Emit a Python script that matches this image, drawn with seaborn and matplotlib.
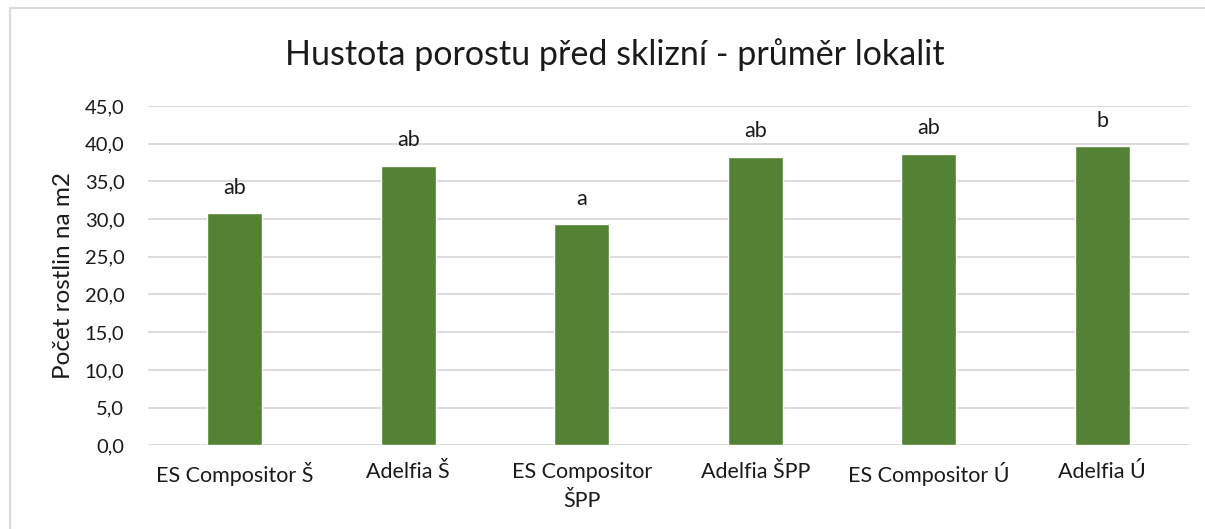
import numpy as np
import pandas as pd
import matplotlib
matplotlib.use("Agg")
import matplotlib.pyplot as plt
import seaborn as sns
from matplotlib.lines import Line2D

categories = ["ES Compositor Š", "Adelfia Š", "ES Compositor\nŠPP", "Adelfia ŠPP",
              "ES Compositor Ú", "Adelfia Ú"]
values = [30.8, 37.1, 29.4, 38.3, 38.7, 39.7]
letters = ["ab", "ab", "a", "ab", "ab", "b"]
yticks = np.arange(0, 46, 5)

sns.set_style("white")
plt.rcParams['font.family'] = ['Lato', 'DejaVu Sans']

df = pd.DataFrame({"odruda": categories, "hustota": values})

fig = plt.figure(figsize=(12.05, 5.29), dpi=100)
ax = fig.add_axes([148 / 1205, 1 - 445.3 / 529, (1189 - 148) / 1205, (445.3 - 106) / 529])

sns.barplot(data=df, x="odruda", y="hustota", color="#548235", saturation=1,
            width=0.317, ax=ax, zorder=3)

ax.set_ylim(0, 45)
ax.set_yticks(yticks)
ax.set_yticklabels([f"{v:.1f}".replace(".", ",") for v in yticks], fontsize=14.5, color="#1a1a1a")
ax.yaxis.grid(True, color="#d9d9d9", linewidth=1.3, zorder=0)
ax.set_axisbelow(True)
for s in ax.spines.values():
    s.set_visible(False)
ax.tick_params(axis="both", length=0)
ax.tick_params(axis="y", pad=17)
ax.tick_params(axis="x", pad=12)
for lbl in ax.get_xticklabels():
    lbl.set_fontsize(15.5)
    lbl.set_color("#1a1a1a")
    lbl.set_linespacing(1.55)

ax.set_xlabel("")
ax.set_ylabel("Počet rostlin na m2", fontsize=17.5, color="#1a1a1a", labelpad=8)

for i, (v, t) in enumerate(zip(values, letters)):
    ax.text(i, v + 2.0, t, ha="center", va="bottom", fontsize=15.5, color="#1a1a1a")

fig.text(0.51, 1 - 55 / 529, "Hustota porostu před sklizní - průměr lokalit",
         ha="center", va="center", fontsize=24.5, color="#1a1a1a")

# chart frame
fig.add_artist(Line2D([10 / 1205, 10 / 1205], [0, 1 - 8 / 529], transform=fig.transFigure,
                      color="#d9d9d9", linewidth=1.5))
fig.add_artist(Line2D([10 / 1205, 1], [1 - 8 / 529, 1 - 8 / 529], transform=fig.transFigure,
                      color="#d9d9d9", linewidth=1.5))

fig.savefig("out.png", dpi=100)
